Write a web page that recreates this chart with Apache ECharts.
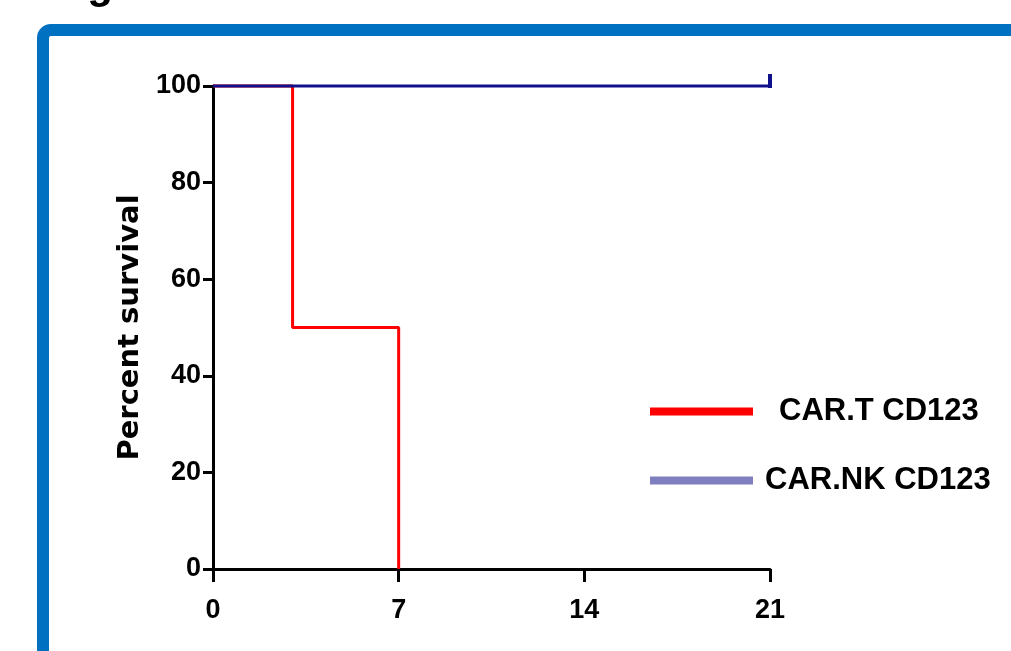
<!DOCTYPE html>
<html>
<head>
<meta charset="utf-8">
<script src="https://cdn.jsdelivr.net/npm/echarts@6/dist/echarts.min.js"></script>
<style>
html, body { margin: 0; padding: 0; background: #fff; }
#chart { width: 1011px; height: 651px; }
</style>
</head>
<body>
<div id="chart"></div>
<script>
// survival steps (day, percent)
const carT = [[0, 100], [3, 100], [3, 50], [7, 50], [7, 0]];
const carNK = [[0, 100], [21, 100]];
const seriesNames = ['CAR.T CD123', 'CAR.NK CD123'];
const xTicks = [0, 7, 14, 21];
const yTicks = [0, 20, 40, 60, 80, 100];

const tickFont = {
    color: '#000',
    fontWeight: 'bold',
    fontSize: 27,
    fontFamily: '"Liberation Sans", Arial, sans-serif'
};
const legendFont = {
    color: '#000',
    fontWeight: 'bold',
    fontSize: 31,
    fontFamily: '"Liberation Sans", Arial, sans-serif'
};

let myChart = echarts.init(document.getElementById('chart'));
let option = {
    animation: false,
    backgroundColor: '#fff',
    graphic: [
        {
            type: 'rect',
            z: -10,
            shape: {x: 43, y: 30, width: 1100, height: 800, r: 8},
            style: {fill: '#fff', stroke: '#0070c0', lineWidth: 12}
        },
        {
            type: 'text',
            z: -10,
            left: 50,
            top: -35,
            style: {
                text: 'Figure C',
                fill: '#000',
                font: 'bold 42px "Liberation Sans", sans-serif'
            }
        }
    ],
    grid: {left: 213, right: 241, top: 86, bottom: 82},
    legend: [
        {
            left: 645,
            top: 391,
            itemWidth: 103,
            itemHeight: 8,
            data: [{name: seriesNames[0], icon: 'rect', itemStyle: {color: '#ff0000'}}],
            textStyle: Object.assign({padding: [0, 0, 0, 21]}, legendFont)
        },
        {
            left: 645,
            top: 460,
            itemWidth: 103,
            itemHeight: 8,
            data: [{name: seriesNames[1], icon: 'rect', itemStyle: {color: '#7f7fbf'}}],
            textStyle: Object.assign({padding: [0, 0, 0, 7]}, legendFont)
        }
    ],
    xAxis: {
        type: 'value',
        min: xTicks[0],
        max: xTicks[xTicks.length - 1],
        interval: 7,
        axisLine: {lineStyle: {color: '#000', width: 3}},
        axisTick: {show: true, inside: false, length: 13, lineStyle: {color: '#000', width: 3}},
        axisLabel: Object.assign({margin: 28}, tickFont),
        splitLine: {show: false}
    },
    yAxis: {
        type: 'value',
        min: yTicks[0],
        max: yTicks[yTicks.length - 1],
        interval: 20,
        name: 'Percent survival',
        nameLocation: 'middle',
        nameGap: 58,
        nameTextStyle: {
            color: '#000',
            fontWeight: 'bold',
            fontSize: 29,
            fontFamily: '"DejaVu Sans", sans-serif'
        },
        axisLine: {show: true, lineStyle: {color: '#000', width: 3}},
        axisTick: {show: true, inside: false, length: 10, lineStyle: {color: '#000', width: 3}},
        axisLabel: Object.assign({margin: 12}, tickFont),
        splitLine: {show: false}
    },
    series: [
        {
            name: seriesNames[0],
            type: 'line',
            data: carT,
            symbol: 'none',
            clip: false,
            lineStyle: {color: '#ff0000', width: 3},
            itemStyle: {color: '#ff0000'}
        },
        {
            name: seriesNames[1],
            type: 'line',
            data: carNK.map((p, i) => i === carNK.length - 1
                ? {value: p, symbol: 'rect', symbolSize: [4, 14], symbolOffset: [0, -5]}
                : {value: p, symbolSize: 0}),
            symbol: 'rect',
            showSymbol: true,
            clip: false,
            lineStyle: {color: '#10108c', width: 3},
            itemStyle: {color: '#10108c'}
        }
    ]
};
myChart.setOption(option);
</script>
</body>
</html>
